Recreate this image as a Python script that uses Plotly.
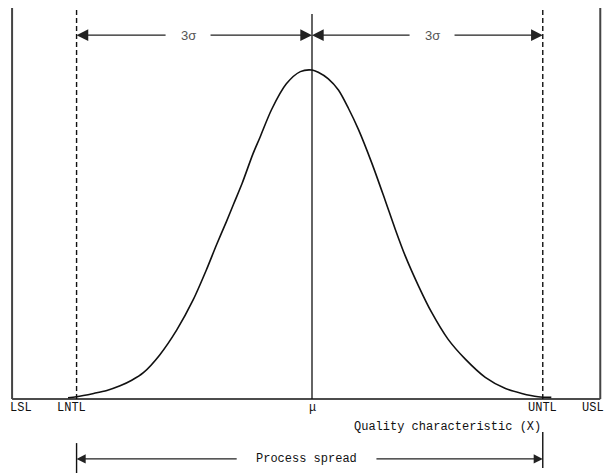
import plotly.graph_objects as go

# positions in sigma units, mu = 0
LIMIT_NAMES = ["LSL", "LNTL", "\u03bc", "UNTL", "USL"]
LIMIT_POS = [-3.86, -3.03, 0.0, 2.97, 3.71]

# normal curve (x in sigma, y relative to peak)
CURVE_X = [-3.14, -3.03, -2.81, -2.64, -2.47, -2.32, -2.17, -1.96, -1.74, -1.53,
           -1.36, -1.23, -1.10, -1.01, -0.90, -0.76, -0.67, -0.52, -0.33, -0.15,
           0.0, 0.08, 0.21, 0.34, 0.47, 0.60, 0.77, 0.94, 1.07, 1.20,
           1.37, 1.54, 1.75, 1.97, 2.23, 2.49, 2.70, 2.91, 3.08]
CURVE_Y = [0.004, 0.007, 0.017, 0.026, 0.040, 0.057, 0.080, 0.134, 0.210, 0.301,
           0.392, 0.468, 0.540, 0.592, 0.655, 0.745, 0.795, 0.880, 0.958, 0.995,
           1.0, 0.993, 0.973, 0.939, 0.883, 0.818, 0.717, 0.605, 0.517, 0.435,
           0.344, 0.263, 0.182, 0.122, 0.066, 0.032, 0.017, 0.007, 0.005]

SIGMA_LABEL = "3\u03c3"
AXIS_TITLE = "Quality characteristic (X)"
SPREAD_LABEL = "Process spread"

MONO = "Liberation Mono, Courier New, monospace"
INK = "#111"
GREY = "#444"

# page body has an 8px margin, so the figure is 8px smaller and offset
W, H, OFF = 607, 467, 8
PX_SIGMA, MU_PX = 77.7, 312
BASE_PY, PEAK_H = 399, 329

lsl, lntl, mu, untl, usl = LIMIT_POS

fig = go.Figure()
fig.add_trace(go.Scatter(x=CURVE_X, y=CURVE_Y, mode="lines",
                         line=dict(color=INK, width=1.6, shape="spline", smoothing=0.8),
                         showlegend=False, hoverinfo="skip"))

# baseline and limit lines
fig.add_shape(type="line", x0=lsl, x1=usl, y0=0, y1=0, line=dict(color=INK, width=1.4))
for pos in (lsl, usl):
    fig.add_shape(type="line", x0=pos, x1=pos, y0=0, y1=1.204, line=dict(color=GREY, width=2))
for pos in (lntl, untl):
    fig.add_shape(type="line", x0=pos, x1=pos, y0=0, y1=1.204,
                  line=dict(color=INK, width=1.4, dash="5px,3px"))
fig.add_shape(type="line", x0=mu, x1=mu, y0=0, y1=1.17, line=dict(color=INK, width=1.3))

# limit labels under the baseline
for name, pos in zip(LIMIT_NAMES, LIMIT_POS):
    kw = dict(xanchor="center", xshift=0)
    if name == "LSL":
        kw = dict(xanchor="left", xshift=-4)
    elif name == "USL":
        kw = dict(xanchor="right", xshift=6)
    elif name == "LNTL":
        kw["xshift"] = -5
    fig.add_annotation(x=pos, y=-0.027, text=name, showarrow=False, yanchor="middle",
                       font=dict(family=MONO, size=12, color=INK), **kw)


def arrow(x_head, x_tail, y, size=1.8):
    fig.add_annotation(x=x_head, y=y, ax=x_tail, ay=y, axref="x", ayref="y",
                       text="", showarrow=True, arrowhead=2, arrowsize=size,
                       arrowwidth=1.3, arrowcolor="#222", standoff=0, startstandoff=0)


# 3 sigma arrows
y_top = 1.106
gap = 0.27
for a, b, shift in ((lntl, mu, -0.08), (mu, untl, 0.06)):
    mid = (a + b) / 2 + shift
    arrow(a, mid - gap, y_top)
    arrow(b, mid + gap, y_top)
    fig.add_annotation(x=mid, y=y_top, text=SIGMA_LABEL, showarrow=False,
                       font=dict(family="Liberation Sans, Arial", size=13, color="#555"))

# axis title
fig.add_annotation(x=untl, y=-0.085, text=AXIS_TITLE, showarrow=False, xanchor="right",
                   font=dict(family=MONO, size=12, color=INK))

# process spread
y_spread = -0.182
fig.add_shape(type="line", x0=lntl, x1=lntl, y0=-0.134, y1=-0.225, line=dict(color=INK, width=1.4))
fig.add_shape(type="line", x0=untl, x1=untl, y0=-0.100, y1=-0.210, line=dict(color=INK, width=1.4))
arrow(lntl, -0.95, y_spread, size=1.4)
arrow(untl, 0.81, y_spread, size=1.4)
fig.add_annotation(x=-0.07, y=y_spread, text=SPREAD_LABEL, showarrow=False,
                   font=dict(family=MONO, size=12, color=INK))

fig.update_layout(
    width=W, height=H,
    margin=dict(l=0, r=0, t=0, b=0),
    plot_bgcolor="white", paper_bgcolor="white",
    showlegend=False,
)
fig.update_xaxes(range=[(OFF - MU_PX) / PX_SIGMA, (OFF + W - MU_PX) / PX_SIGMA], visible=False)
fig.update_yaxes(range=[(BASE_PY - OFF - H) / PEAK_H, (BASE_PY - OFF) / PEAK_H], visible=False)

fig.write_html("out.html")
